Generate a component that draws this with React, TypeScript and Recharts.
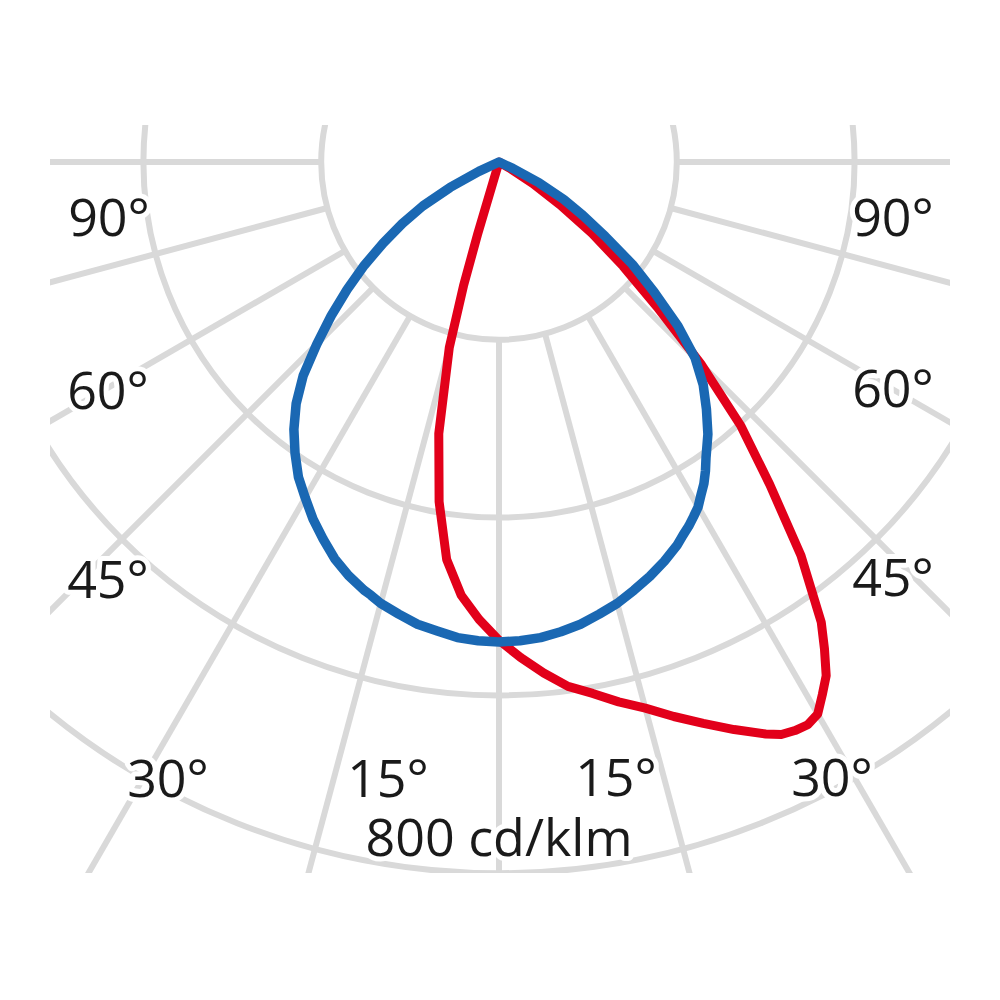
import React from "react";
import {
  RadarChart,
  Radar,
  PolarGrid,
  PolarAngleAxis,
  PolarRadiusAxis,
} from "recharts";

// Angle of each sample, degrees counter-clockwise from nadir (0 = straight down,
// right half first, 180 = straight up, left half as 360 - gamma).
const ANGLES = [
  0, 2.5, 5, 7.5, 10, 12.5, 15, 17.5, 20, 22.5, 25, 26.25, 27.5, 28.75, 30,
  31.25, 32.5, 33.75, 35, 37.5, 40, 42.5, 45, 47.5, 50, 52.5, 55, 57.5, 60,
  62.5, 65, 67.5,
  180,
  292.5, 295, 297.5, 300, 302.5, 305, 307.5, 310, 312.5, 315, 317.5, 320,
  322.5, 325, 327.5, 330, 332.5, 335, 337.5, 340, 342.5, 343.5, 344, 345,
  347.5, 350, 352.5, 355, 357.5,
];

// Luminous intensity, cd/klm (blue curve)
const BLUE = [
  540, 539, 537, 533, 528, 521, 514, 505, 496, 486, 475, 468, 462, 455, 448,
  438, 429, 418, 406, 386, 363, 340, 312, 273, 228, 189, 146, 112, 84,
  51, 17, 0,
  0,
  0, 25, 62, 99, 129, 159, 191, 223, 256, 290, 326, 355, 379, 400, 420, 436,
  453, 468, 483, 495, 505, 508, 510, 514, 521, 528, 532, 537, 539,
];

// Luminous intensity, cd/klm (red curve)
const RED = [
  538, 558, 577, 595, 607, 622, 636, 654, 672, 691, 710, 718, 721, 722, 717,
  701, 685, 659, 632, 558, 474, 403, 321, 241, 182, 132, 84, 45, 13,
  0, 0, 0,
  0,
  0, 0, 0, 0, 0, 0, 0, 0, 0, 0, 0, 0, 0, 0, 0, 0, 0, 0, 0, 0, 0, 85, 145,
  216, 313, 388, 451, 489, 515,
];

// grid
const GRID_RINGS = [200, 400, 600, 800];
const GRID_SPOKES = [-180, -165, -150, -135, -120, -105, -90, -75, -60, -45, -30, -15, 0];

// labels
const LABELS = [
  { text: "90°", x: 109, y: 236 },
  { text: "60°", x: 108, y: 409 },
  { text: "45°", x: 108, y: 598 },
  { text: "30°", x: 168, y: 797 },
  { text: "15°", x: 388, y: 797 },
  { text: "15°", x: 616, y: 796 },
  { text: "30°", x: 832, y: 796 },
  { text: "90°", x: 893, y: 236 },
  { text: "60°", x: 893, y: 407 },
  { text: "45°", x: 893, y: 596 },
  { text: "800 cd/klm", x: 499, y: 856 },
];

const data = ANGLES.map((a, i) => ({ angle: a, blue: BLUE[i], red: RED[i] }));

const PX_PER_UNIT = 0.889;
const BOX_LEFT = 50;
const BOX_TOP = 125;
const BOX_W = 900;
const BOX_H = 748;
const CX = 449;
const CY = 37;
const GRID_INNER = 200 * PX_PER_UNIT;
const GRID_OUTER = 1200 * PX_PER_UNIT;

const CSS = `
.curve-red path{stroke-width:9px;stroke-linejoin:round;stroke-linecap:round}
.curve-blue path{stroke-width:9.5px;stroke-linejoin:round;stroke-linecap:round}
.grid-box .recharts-polar-grid line,.grid-box .recharts-polar-grid circle{stroke-width:6px}
`;

export default function App() {
  return (
    <div
      style={{
        position: "absolute",
        left: 0,
        top: 0,
        width: 1000,
        height: 1000,
        background: "#ffffff",
        overflow: "hidden",
      }}
    >
      <style>{CSS}</style>
      <div
        className="grid-box"
        style={{
          position: "absolute",
          left: BOX_LEFT,
          top: BOX_TOP,
          width: BOX_W,
          height: BOX_H,
          overflow: "hidden",
        }}
      >
        <RadarChart
          width={BOX_W}
          height={BOX_H}
          data={data}
          cx={CX}
          cy={CY}
          innerRadius={GRID_INNER}
          outerRadius={GRID_OUTER}
          startAngle={-90}
          endAngle={270}
          margin={{ top: 0, right: 0, bottom: 0, left: 0 }}
        >
          <PolarGrid
            gridType="circle"
            cx={CX}
            cy={CY}
            innerRadius={GRID_INNER}
            outerRadius={GRID_OUTER}
            polarAngles={GRID_SPOKES}
            polarRadius={GRID_RINGS.map((v) => v * PX_PER_UNIT)}
            stroke="#d9d9d9"
            strokeWidth={6}
          />
          <PolarAngleAxis
            dataKey="angle"
            type="number"
            domain={[0, 360]}
            tick={false}
            axisLine={false}
          />
          <PolarRadiusAxis
            type="number"
            domain={[200, 1200]}
            tick={false}
            axisLine={false}
          />
          <Radar
            dataKey="blue"
            stroke="none"
            fill="none"
            fillOpacity={0}
            dot={false}
            legendType="none"
            isAnimationActive={false}
          />
        </RadarChart>
      </div>
      <svg
        width={1000}
        height={1000}
        style={{ position: "absolute", left: 0, top: 0 }}
      >
        {LABELS.map((l, i) => (
          <text
            key={i}
            x={l.x}
            y={l.y}
            textAnchor="middle"
            fontFamily="'Open Sans', 'Noto Sans', sans-serif"
            fontSize={52}
            fill="#1a1a1a"
            stroke="#ffffff"
            strokeWidth={10}
            strokeLinejoin="round"
            style={{ paintOrder: "stroke" }}
          >
            {l.text}
          </text>
        ))}
      </svg>
      <div
        style={{
          position: "absolute",
          left: BOX_LEFT,
          top: BOX_TOP,
          width: BOX_W,
          height: BOX_H,
        }}
      >
        <RadarChart
          width={BOX_W}
          height={BOX_H}
          data={data}
          cx={CX}
          cy={CY}
          innerRadius={0}
          outerRadius={1000 * PX_PER_UNIT}
          startAngle={-90}
          endAngle={270}
          margin={{ top: 0, right: 0, bottom: 0, left: 0 }}
        >
          <PolarAngleAxis
            dataKey="angle"
            type="number"
            domain={[0, 360]}
            tick={false}
            axisLine={false}
          />
          <PolarRadiusAxis
            type="number"
            domain={[0, 1000]}
            tick={false}
            axisLine={false}
          />
          <Radar
            className="curve-red"
            dataKey="red"
            stroke="#e2001a"
            strokeWidth={9}
            fill="none"
            fillOpacity={0}
            dot={false}
            isAnimationActive={false}
          />
          <Radar
            className="curve-blue"
            dataKey="blue"
            stroke="#1a68b3"
            strokeWidth={9.5}
            fill="none"
            fillOpacity={0}
            dot={false}
            isAnimationActive={false}
          />
        </RadarChart>
      </div>
    </div>
  );
}
